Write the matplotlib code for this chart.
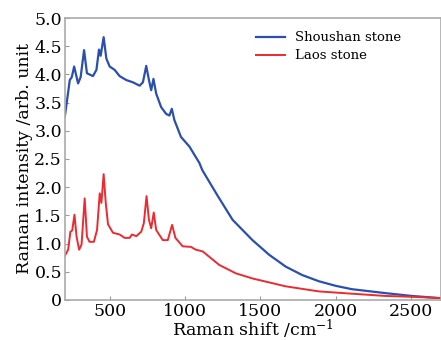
import numpy as np
import matplotlib
matplotlib.use("Agg")
import matplotlib.pyplot as plt

plt.rcParams["font.family"] = "DejaVu Serif"
plt.rcParams["mathtext.fontset"] = "dejavuserif"

# Shoushan stone spectrum
shift_blue = [200, 233, 246, 262, 288, 305, 328, 347, 387, 410, 427, 438, 458, 476,
              498, 531, 564, 608, 652, 697, 719, 741, 759, 774, 789, 807, 840, 873,
              895, 911, 928, 972, 1028, 1094, 1114, 1215, 1315, 1447, 1558, 1668,
              1778, 1889, 1999, 2107, 2330, 2505, 2700]
inten_blue = [3.25, 3.9, 3.95, 4.14, 3.84, 3.95, 4.43, 4.02, 3.97, 4.08, 4.44, 4.33,
              4.66, 4.28, 4.14, 4.08, 3.97, 3.9, 3.86, 3.8, 3.86, 4.15, 3.9, 3.72,
              3.92, 3.66, 3.42, 3.3, 3.27, 3.39, 3.19, 2.89, 2.72, 2.43, 2.3, 1.85,
              1.42, 1.06, 0.80, 0.59, 0.44, 0.33, 0.25, 0.19, 0.12, 0.07, 0.03]

# Laos stone spectrum
shift_red = [200, 222, 237, 249, 264, 278, 295, 311, 332, 347, 364, 393, 414, 432,
             443, 458, 472, 487, 520, 564, 597, 631, 646, 675, 708, 725, 743, 759,
             774, 791, 807, 851, 884, 913, 935, 983, 1038, 1071, 1116, 1226, 1337,
             1447, 1668, 1889, 2107, 2330, 2550, 2700]
inten_red = [0.78, 0.89, 1.21, 1.23, 1.51, 1.12, 0.89, 0.98, 1.80, 1.12, 1.03, 1.03,
             1.24, 1.89, 1.72, 2.23, 1.72, 1.34, 1.19, 1.16, 1.1, 1.1, 1.16, 1.13,
             1.21, 1.36, 1.84, 1.42, 1.27, 1.55, 1.24, 1.06, 1.06, 1.33, 1.1, 0.95,
             0.94, 0.89, 0.86, 0.62, 0.47, 0.38, 0.24, 0.15, 0.11, 0.07, 0.05, 0.03]

xticks = [500, 1000, 1500, 2000, 2500]
yticks = [0, 0.5, 1.0, 1.5, 2.0, 2.5, 3.0, 3.5, 4.0, 4.5, 5.0]
ylabels = ["0", "0.5", "1.0", "1.5", "2.0", "2.5", "3.0", "3.5", "4.0", "4.5", "5.0"]

fig = plt.figure(figsize=(4.41, 3.40), dpi=100)
ax = fig.add_axes([0.147, 0.118, 0.853, 0.829])

ax.plot(shift_blue, inten_blue, color="#2b4fae", lw=1.6, label="Shoushan stone")
ax.plot(shift_red, inten_red, color="#ec2a30", lw=1.4, label="Laos stone")

ax.set_xlim(200, 2700)
ax.set_ylim(0, 5.0)
ax.set_xticks(xticks)
ax.set_yticks(yticks)
ax.set_yticklabels(ylabels)
ax.tick_params(direction="in", length=3, color="#999999", labelsize=12.5, pad=2)

for s in ax.spines.values():
    s.set_color("#aaaaaa")
    s.set_linewidth(1.2)

ax.set_xlabel("Raman shift /cm$^{-1}$", fontsize=12.5, labelpad=-1)
ax.set_ylabel("Raman intensity /arb. unit", fontsize=12.5, labelpad=1)

ax.legend(loc="upper right", frameon=False, fontsize=9.5, handlelength=2.2,
          borderaxespad=0.6, labelspacing=0.4, bbox_to_anchor=(0.93, 1.0))

fig.savefig("out.png", dpi=100)
